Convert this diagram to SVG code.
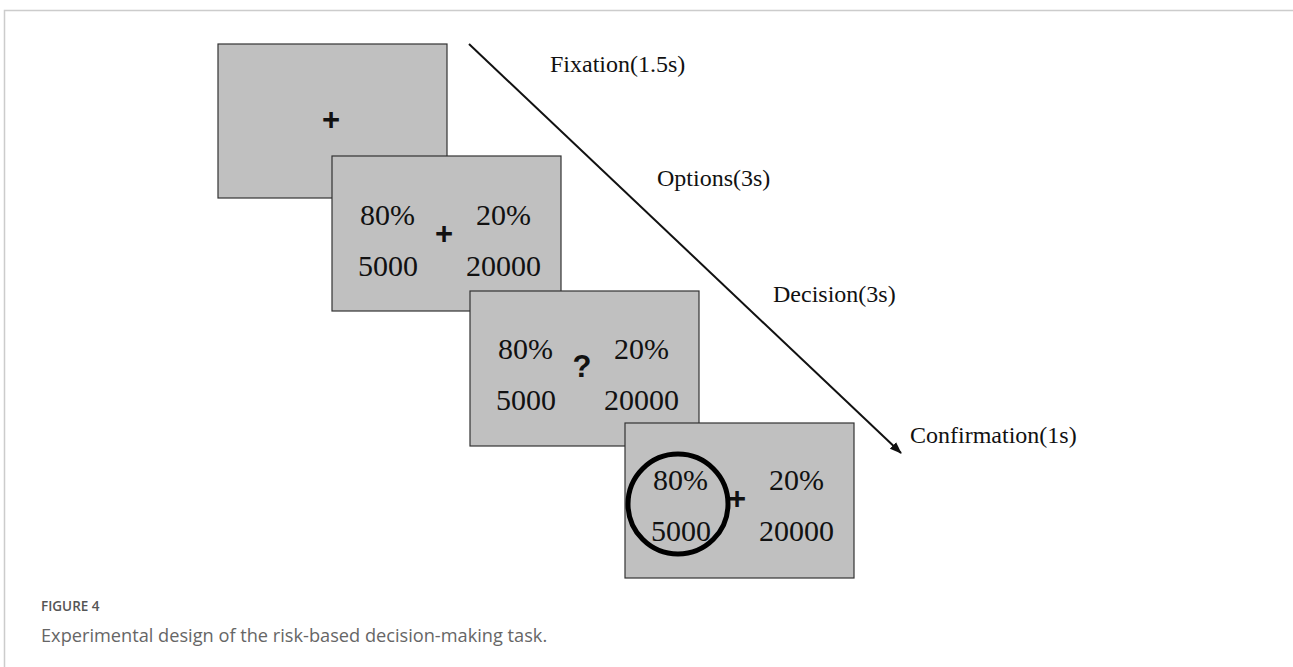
<svg xmlns="http://www.w3.org/2000/svg" width="1293" height="667" viewBox="0 0 1293 667">
<style>
.scr{fill:#c0c0c0;stroke:#333;stroke-width:1.2}
.num{font-family:"Liberation Serif",serif;font-size:30px;fill:#111}
.lab{font-family:"Liberation Serif",serif;font-size:24px;fill:#111}
.sym{font-family:"Liberation Sans",sans-serif;font-weight:bold;font-size:31px;fill:#111;text-anchor:middle}
</style>
<defs>
<marker id="ah" markerWidth="12" markerHeight="10" refX="11" refY="5" orient="auto" markerUnits="userSpaceOnUse">
<path d="M0,0.5 L12,5 L0,9.5 Z" fill="#111"/>
</marker>
</defs>
<rect width="1293" height="667" fill="#fff"/>
<path d="M4.5,667 V10.5 H1293" fill="none" stroke="#ccc" stroke-width="1.5"/>
<g id="connectors">
<line x1="469" y1="44" x2="901" y2="453" stroke="#111" stroke-width="2" marker-end="url(#ah)"/>
</g>
<g id="fixation">
<rect class="scr" x="218" y="44" width="229" height="154"/>
<text class="sym" x="331" y="130">+</text>
<text class="lab" x="550" y="72">Fixation(1.5s)</text>
</g>
<g id="options">
<rect class="scr" x="332" y="156" width="229" height="155"/>
<text class="num" x="360" y="225">80%</text>
<text class="num" x="476" y="225">20%</text>
<text class="num" x="358" y="276">5000</text>
<text class="num" x="466" y="276">20000</text>
<text class="sym" x="444" y="244">+</text>
<text class="lab" x="657" y="186">Options(3s)</text>
</g>
<g id="decision">
<rect class="scr" x="470" y="291" width="229" height="155"/>
<text class="num" x="498" y="359">80%</text>
<text class="num" x="614" y="359">20%</text>
<text class="num" x="496" y="410">5000</text>
<text class="num" x="604" y="410">20000</text>
<text class="sym" x="582" y="377" font-size="26">?</text>
<text class="lab" x="773" y="302">Decision(3s)</text>
</g>
<g id="confirmation">
<rect class="scr" x="625" y="423" width="229" height="155"/>
<text class="num" x="653" y="490">80%</text>
<text class="num" x="769" y="490">20%</text>
<text class="num" x="651" y="541">5000</text>
<text class="num" x="759" y="541">20000</text>
<text class="sym" x="737" y="509">+</text>
<circle cx="678" cy="504" r="50" fill="none" stroke="#000" stroke-width="5"/>
<text class="lab" x="910" y="443">Confirmation(1s)</text>
</g>
<g id="caption">
<text x="41" y="611" font-family="Open Sans,sans-serif" font-size="13.5" font-weight="600" fill="#555">FIGURE 4</text>
<text x="41" y="642" font-family="Open Sans,sans-serif" font-size="18.2" fill="#666">Experimental design of the risk-based decision-making task.</text>
</g>
</svg>
